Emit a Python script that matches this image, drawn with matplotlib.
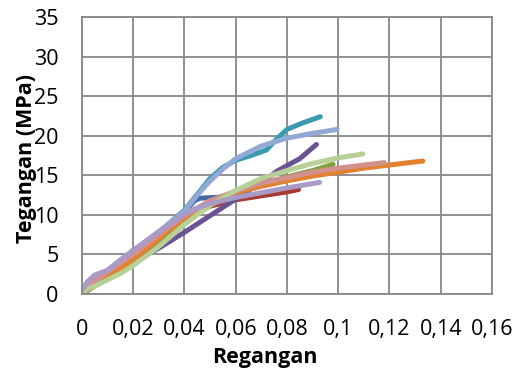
import matplotlib
matplotlib.use('Agg')
import matplotlib.pyplot as plt

# regangan (x) dan tegangan (y) per benda uji
x_blue = [0, 0.01, 0.02, 0.03, 0.04, 0.044, 0.046, 0.052, 0.057, 0.064]
y_blue = [0, 2.6, 5.2, 7.8, 10.4, 11.8, 12.1, 12.2, 12.3, 12.5]

x_red = [0, 0.005, 0.01, 0.015, 0.02, 0.03, 0.04, 0.05, 0.06, 0.07, 0.08, 0.0845]
y_red = [0, 1.5, 2.7, 4.2, 5.5, 7.6, 9.9, 11.1, 11.9, 12.4, 12.9, 13.2]

x_green = [0, 0.01, 0.02, 0.03, 0.04, 0.05, 0.06, 0.07, 0.08, 0.09, 0.098]
y_green = [0, 2.0, 4.0, 6.4, 9.0, 11.2, 12.8, 13.9, 14.8, 15.6, 16.4]

x_purple = [0, 0.01, 0.02, 0.03, 0.04, 0.05, 0.06, 0.066, 0.072, 0.076, 0.081, 0.085, 0.0915]
y_purple = [0, 2.2, 4.0, 5.8, 7.8, 9.9, 12.0, 13.3, 14.5, 15.5, 16.4, 17.1, 18.9]

x_teal = [0, 0.01, 0.02, 0.03, 0.04, 0.045, 0.05, 0.055, 0.06, 0.066, 0.072, 0.076, 0.08, 0.086, 0.093]
y_teal = [0, 2.8, 5.3, 7.8, 10.6, 12.6, 14.6, 16.0, 16.9, 17.5, 18.2, 19.6, 20.8, 21.6, 22.4]

x_orange = [0, 0.01, 0.02, 0.03, 0.04, 0.05, 0.06, 0.07, 0.08, 0.09, 0.1, 0.11, 0.12, 0.133]
y_orange = [0, 2.2, 4.3, 7.0, 9.6, 11.5, 12.8, 13.6, 14.3, 14.9, 15.4, 15.9, 16.3, 16.8]

x_lblue = [0, 0.01, 0.02, 0.03, 0.04, 0.045, 0.05, 0.055, 0.06, 0.065, 0.07, 0.08, 0.09, 0.0996]
y_lblue = [0, 3.0, 5.5, 7.8, 10.5, 12.5, 14.3, 15.8, 17.1, 17.9, 18.7, 19.7, 20.3, 20.8]

x_pink = [0, 0.005, 0.01, 0.02, 0.03, 0.04, 0.05, 0.06, 0.07, 0.08, 0.09, 0.1, 0.11, 0.118]
y_pink = [0.5, 1.7, 2.8, 5.0, 7.5, 9.9, 11.8, 13.0, 14.0, 14.7, 15.4, 15.9, 16.3, 16.6]

x_lgreen = [0, 0.005, 0.01, 0.015, 0.02, 0.03, 0.04, 0.05, 0.06, 0.07, 0.08, 0.09, 0.1, 0.1096]
y_lgreen = [0.3, 1.0, 1.8, 2.6, 3.6, 6.0, 8.8, 11.2, 13.1, 14.6, 15.6, 16.5, 17.2, 17.7]

x_lpurple = [0, 0.002, 0.005, 0.01, 0.015, 0.02, 0.03, 0.04, 0.045, 0.05, 0.06, 0.07, 0.08, 0.0927]
y_lpurple = [0.5, 1.5, 2.4, 3.0, 4.3, 5.5, 7.9, 10.1, 10.9, 11.4, 12.2, 12.8, 13.4, 14.1]

series = [
    (x_blue, y_blue, '#3D6BA8'),
    (x_red, y_red, '#A83A36'),
    (x_green, y_green, '#7FA242'),
    (x_purple, y_purple, '#6A5294'),
    (x_teal, y_teal, '#3A9AB2'),
    (x_orange, y_orange, '#E2812E'),
    (x_lblue, y_lblue, '#92A9D5'),
    (x_pink, y_pink, '#D3908D'),
    (x_lgreen, y_lgreen, '#B7D096'),
    (x_lpurple, y_lpurple, '#A99BC5'),
]

xticks = [0, 0.02, 0.04, 0.06, 0.08, 0.1, 0.12, 0.14, 0.16]
xticklabels = ['0', '0,02', '0,04', '0,06', '0,08', '0,1', '0,12', '0,14', '0,16']
yticks = [0, 5, 10, 15, 20, 25, 30, 35]

plt.rcParams['font.family'] = ['Open Sans', 'DejaVu Sans']

fig = plt.figure(figsize=(5.18, 3.72), dpi=100)
ax = fig.add_axes([0.1583, 0.2097, 0.7915, 0.7446])

for xs, ys, c in series:
    ax.plot(xs, ys, color=c, lw=3.6, solid_capstyle='round', solid_joinstyle='round')

ax.set_xlim(0, 0.16)
ax.set_ylim(0, 35)
ax.set_xticks(xticks)
ax.set_xticklabels(xticklabels)
ax.set_yticks(yticks)
ax.grid(True, color='#888888', lw=1.3)
ax.set_axisbelow(True)
for s in ax.spines.values():
    s.set_color('#888888')
    s.set_linewidth(1.3)
ax.tick_params(length=0, labelsize=15.5, pad=17)
ax.tick_params(axis='x', pad=18)

fig.text(265 / 518, 1 - 358 / 372, 'Regangan', ha='center', va='center',
         fontsize=15.5, fontweight='bold')
fig.text(27 / 518, 1 - 158 / 372, 'Tegangan (MPa)', ha='center', va='center',
         rotation=90, fontsize=15.5, fontweight='bold')

fig.savefig('out.png', dpi=100)
